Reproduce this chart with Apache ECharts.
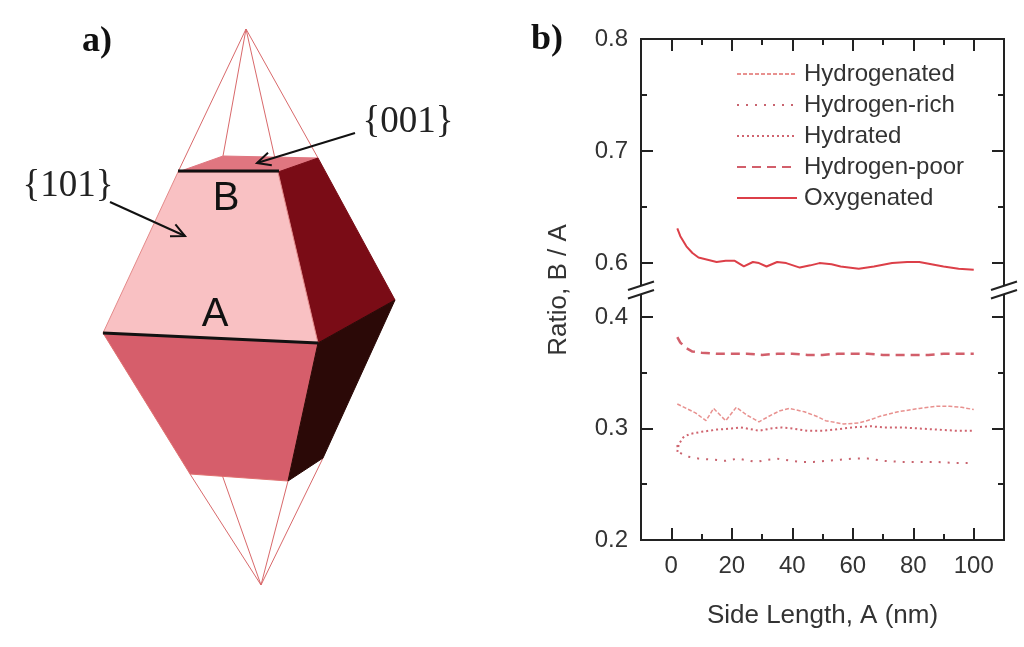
<!DOCTYPE html>
<html>
<head>
<meta charset="utf-8">
<script src="https://cdn.jsdelivr.net/npm/echarts@6/dist/echarts.min.js"></script>
<style>html,body{margin:0;padding:0;background:#fff}#main{width:1024px;height:647px}</style>
</head>
<body>
<div id="main"></div>
<script>
// tick positions
var xTicks = [0, 20, 40, 60, 80, 100];
var xMinor = [10, 30, 50, 70, 90];
var yTicksUpper = [0.6, 0.7, 0.8];
var yMinorUpper = [0.65, 0.75];
var yTicksLower = [0.2, 0.3, 0.4];
var yMinorLower = [0.25, 0.35];

var seriesNames = ['Hydrogenated', 'Hydrogen-rich', 'Hydrated', 'Hydrogen-poor', 'Oxygenated'];

// [side length, ratio B/A]
var hydrogenated = [[2,0.322],[5,0.318],[8,0.314],[11.5,0.307],[14,0.318],[18,0.307],[21.5,0.319],[25,0.312],[29,0.306],[33,0.312],[36,0.316],[39,0.318],[44,0.315],[48,0.311],[51,0.307],[57,0.304],[62,0.305],[66,0.308],[69,0.311],[75,0.315],[82,0.318],[88,0.320],[92,0.320],[96,0.319],[100,0.317]];
var hydrogenRich = [[2,0.285],[2.3,0.279],[5,0.275],[9,0.273],[14,0.272],[18,0.271],[22,0.273],[28,0.270],[32,0.272],[35,0.273],[40,0.271],[43,0.270],[47,0.270],[51,0.271],[56,0.272],[60,0.273],[65,0.273],[70,0.271],[76,0.270],[82,0.270],[88,0.270],[94,0.269],[100,0.269]];
var hydrated = [[2,0.279],[2.5,0.286],[4,0.292],[6,0.295],[10,0.297],[15,0.299],[20,0.300],[23,0.301],[29,0.298],[33,0.300],[36,0.301],[40,0.300],[45,0.298],[50,0.298],[54,0.299],[60,0.301],[66,0.302],[70,0.301],[76,0.301],[82,0.300],[88,0.299],[94,0.298],[100,0.298]];
var hydrogenPoor = [[2,0.382],[3,0.377],[5,0.372],[7,0.369],[10,0.368],[15,0.367],[20,0.367],[25,0.367],[30,0.366],[35,0.367],[40,0.367],[45,0.366],[50,0.366],[55,0.367],[60,0.367],[65,0.367],[70,0.366],[75,0.366],[80,0.366],[85,0.366],[90,0.367],[95,0.367],[100,0.367]];
var oxygenated = [[2,0.631],[3,0.624],[5,0.615],[7,0.609],[9,0.605],[12,0.603],[15,0.601],[18,0.602],[21,0.602],[24,0.597],[27,0.601],[29,0.600],[31.5,0.597],[35,0.601],[38,0.600],[42.5,0.596],[46,0.598],[49,0.600],[53,0.599],[56,0.597],[62,0.595],[67,0.597],[73,0.600],[78,0.601],[82,0.601],[86,0.599],[90,0.597],[95,0.595],[100,0.594]];

var AX = '#222';
var SANS = 'Liberation Sans';
var SERIF = 'Liberation Serif';

function makeX(grid, pos, ticks, len, labels) {
  var ax = {
    type: 'value', gridIndex: grid, position: pos, min: -10, max: 110,
    axisLine: {show: true, onZero: false, lineStyle: {color: AX, width: 2}},
    axisTick: {show: true, inside: true, length: len, customValues: ticks, lineStyle: {color: AX, width: 2}},
    axisLabel: labels ? {customValues: ticks, fontSize: 24, color: '#333', margin: 14, fontFamily: SANS} : {show: false},
    splitLine: {show: false}
  };
  if (labels) {
    ax.name = 'Side Length, A (nm)';
    ax.nameLocation = 'middle';
    ax.nameGap = 63;
    ax.nameTextStyle = {fontSize: 26, color: '#333', fontFamily: SANS};
  }
  return ax;
}
function makeY(grid, pos, mn, mx, ticks, len, labels) {
  return {
    type: 'value', gridIndex: grid, position: pos, min: mn, max: mx,
    axisLine: {show: true, onZero: false, lineStyle: {color: AX, width: 2}},
    axisTick: {show: true, inside: true, length: len, customValues: ticks, lineStyle: {color: AX, width: 2}},
    axisLabel: labels ? {customValues: ticks, fontSize: 24, color: '#333', margin: 13, fontFamily: SANS,
      formatter: function (v) { return v.toFixed(1); }} : {show: false},
    splitLine: {show: false}
  };
}

function arrow(x1, y1, x2, y2) {
  var dx = x2 - x1, dy = y2 - y1, l = Math.sqrt(dx * dx + dy * dy);
  var ux = dx / l, uy = dy / l, h = 15, a = 0.45;
  var c = Math.cos(a), s = Math.sin(a);
  var p1 = [x2 - h * (ux * c - uy * s), y2 - h * (uy * c + ux * s)];
  var p2 = [x2 - h * (ux * c + uy * s), y2 - h * (uy * c - ux * s)];
  return [
    {type: 'polyline', shape: {points: [[x1, y1], [x2, y2]]}, style: {stroke: '#111', lineWidth: 2, fill: null}},
    {type: 'polyline', shape: {points: [p1, [x2, y2], p2]}, style: {stroke: '#111', lineWidth: 2, fill: null}}
  ];
}

// crystal outline (illustration, panel a)
var apexTop = [246, 29], apexBot = [261, 585];
var TFL = [178, 172], TBL = [223, 156], TBR = [318, 158], TFR = [278, 172];
var AL = [103, 333], AR = [318, 343], RV = [395, 300];
var BFL = [190, 474], BFR = [288, 481], BBR = [323, 458], BBL = [214, 452];
function wire(p, q) {
  return {type: 'polyline', shape: {points: [p, q]}, style: {stroke: '#d9696b', lineWidth: 1, fill: null}};
}
function face(pts, col, stroke) {
  return {type: 'polygon', shape: {points: pts}, style: {fill: col, stroke: stroke || col, lineWidth: 1}};
}
var crystal = [
  wire(apexTop, TFL), wire(apexTop, TBL), wire(apexTop, TFR), wire(apexTop, TBR),
  wire(apexBot, BFL), wire(apexBot, BBL), wire(apexBot, BFR), wire(apexBot, BBR),
  face([TFL, TBL, TBR, TFR], '#e07680'),
  face([TFR, TBR, RV, AR], '#7a0c16'),
  face([TFL, TFR, AR, AL], '#f9c1c3', '#e48a8a'),
  face([AL, AR, BFR, BFL], '#d65e6b', '#e07070'),
  face([AR, RV, BBR, BFR], '#2b0907'),
  {type: 'polyline', shape: {points: [[178, 171], [279, 171]]}, style: {stroke: '#111', lineWidth: 3, fill: null}},
  {type: 'polyline', shape: {points: [AL, AR]}, style: {stroke: '#111', lineWidth: 3, fill: null}},
  {type: 'text', x: 226, y: 199, style: {text: 'B', fontSize: 40, fontFamily: SANS, fill: '#111', align: 'center', verticalAlign: 'middle'}},
  {type: 'text', x: 215, y: 315, style: {text: 'A', fontSize: 40, fontFamily: SANS, fill: '#111', align: 'center', verticalAlign: 'middle'}},
  {type: 'text', x: 68, y: 186, style: {text: '{101}', fontSize: 37, fontFamily: SERIF, fill: '#222', align: 'center', verticalAlign: 'middle'}},
  {type: 'text', x: 408, y: 122, style: {text: '{001}', fontSize: 37, fontFamily: SERIF, fill: '#222', align: 'center', verticalAlign: 'middle'}},
  {type: 'text', x: 97, y: 42, style: {text: 'a)', fontSize: 36, fontWeight: 'bold', fontFamily: SERIF, fill: '#111', align: 'center', verticalAlign: 'middle'}}
].concat(arrow(110, 202, 185, 236), arrow(355, 133, 257, 163));

function breakMark(x) {
  return [
    {type: 'polygon', z: 100, shape: {points: [[x - 12, 290], [x + 12, 282], [x + 12, 290], [x - 12, 298]]}, style: {fill: '#fff'}},
    {type: 'polyline', z: 101, shape: {points: [[x - 13, 290], [x + 13, 281.5]]}, style: {stroke: AX, lineWidth: 2, fill: null}},
    {type: 'polyline', z: 101, shape: {points: [[x - 13, 298.5], [x + 13, 290]]}, style: {stroke: AX, lineWidth: 2, fill: null}}
  ];
}

var chartGraphics = [
  {type: 'text', x: 547, y: 40, style: {text: 'b)', fontSize: 36, fontWeight: 'bold', fontFamily: SERIF, fill: '#111', align: 'center', verticalAlign: 'middle'}},
  {type: 'text', x: 559, y: 290, rotation: Math.PI / 2, style: {text: 'Ratio, B / A', fontSize: 26, fontFamily: SANS, fill: '#333', align: 'center', verticalAlign: 'middle'}}
].concat(breakMark(641), breakMark(1004));

var styles = {
  'Hydrogenated': {color: '#e8918f', width: 1.5, type: [4, 2]},
  'Hydrogen-rich': {color: '#c8646f', width: 2, type: [2, 7]},
  'Hydrated': {color: '#d0646f', width: 2, type: [2, 3]},
  'Hydrogen-poor': {color: '#d25f6b', width: 2.5, type: [9, 6]},
  'Oxygenated': {color: '#dc3f48', width: 2, type: 'solid'}
};
var dataByName = {
  'Hydrogenated': hydrogenated, 'Hydrogen-rich': hydrogenRich, 'Hydrated': hydrated,
  'Hydrogen-poor': hydrogenPoor, 'Oxygenated': oxygenated
};

var series = seriesNames.map(function (n) {
  var upper = n === 'Oxygenated';
  var st = styles[n];
  return {
    name: n, type: 'line', symbol: 'none', showSymbol: false,
    xAxisIndex: upper ? 0 : 2, yAxisIndex: upper ? 0 : 4,
    lineStyle: {color: st.color, width: st.width, type: st.type},
    itemStyle: {color: st.color},
    data: dataByName[n]
  };
});

var myChart = echarts.init(document.getElementById('main'));
var option = {
  backgroundColor: '#fff',
  animation: false,
  grid: [
    {left: 641, right: 20, top: 39, height: 251},
    {left: 641, right: 20, top: 290, height: 250}
  ],
  xAxis: [
    makeX(0, 'top', xTicks, 12, false),
    makeX(0, 'top', xMinor, 6, false),
    makeX(1, 'bottom', xTicks, 12, true),
    makeX(1, 'bottom', xMinor, 6, false)
  ],
  yAxis: [
    makeY(0, 'left', 0.576, 0.8, yTicksUpper, 12, true),
    makeY(0, 'left', 0.576, 0.8, yMinorUpper, 6, false),
    makeY(0, 'right', 0.576, 0.8, yTicksUpper, 12, false),
    makeY(0, 'right', 0.576, 0.8, yMinorUpper, 6, false),
    makeY(1, 'left', 0.2, 0.4242, yTicksLower, 12, true),
    makeY(1, 'left', 0.2, 0.4242, yMinorLower, 6, false),
    makeY(1, 'right', 0.2, 0.4242, yTicksLower, 12, false),
    makeY(1, 'right', 0.2, 0.4242, yMinorLower, 6, false)
  ],
  legend: {
    data: seriesNames, orient: 'vertical', left: 731, top: 57,
    itemWidth: 60, itemHeight: 14, itemGap: 7,
    itemStyle: {opacity: 0},
    textStyle: {fontSize: 24, color: '#333', fontFamily: SANS, lineHeight: 24, padding: [0, 0, 0, 2]}
  },
  graphic: crystal.concat(chartGraphics),
  series: series
};
myChart.setOption(option);
</script>
</body>
</html>
